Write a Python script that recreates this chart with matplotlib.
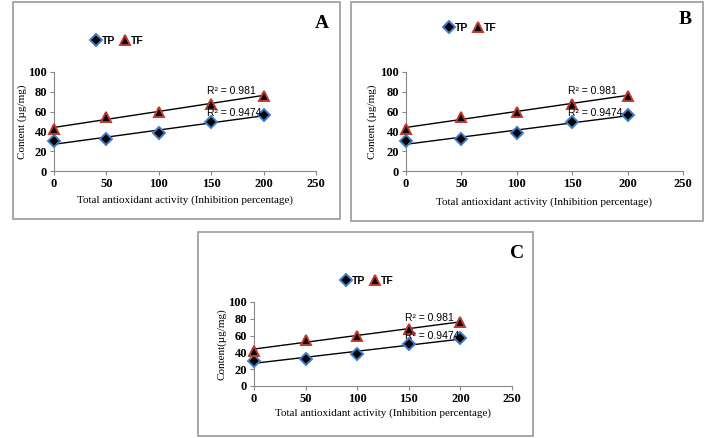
import numpy as np
import matplotlib.pyplot as plt
from matplotlib.patches import Rectangle

# datos (iguales en los tres paneles)
x = [0, 50, 100, 150, 200]
tp = [30, 32, 38, 50, 57]
tf = [42, 55, 60, 68, 76]
xticks = [0, 50, 100, 150, 200, 250]
yticks = [0, 20, 40, 60, 80, 100]
r2_tp = 'R² = 0.9474'
r2_tf = 'R² = 0.981'
letras = ['A', 'B', 'C']
ylabels = ['Content (µg/mg)', 'Content (µg/mg)', 'Content(µg/mg)']

W, H = 709, 438
fig = plt.figure(figsize=(W/100, H/100), dpi=100)

def px(l, t, r, b):
    return [l/W, 1 - b/H, (r-l)/W, (b-t)/H]

# cajas y ejes en pixeles (izq, arriba, der, abajo)
cajas = [(13, 2, 340, 219), (351, 2, 703, 221), (198, 232, 533, 436)]
ejes = [(54, 72, 316, 171), (406, 72, 683, 171), (254, 302, 512, 386)]
leyendas = [(118, 41), (471, 28), (368, 281)]
pos_letra = [(322, 23), (685, 20), (517, 254)]
ylab_x = [22, 372, 222]
xlab_y = [200, 202, 413]

for i in range(3):
    l, t, r, b = cajas[i]
    fig.patches.append(Rectangle((l/W, 1-b/H), (r-l)/W, (b-t)/H, transform=fig.transFigure,
                                 fill=False, edgecolor='#999999', lw=1.2))
    ax = fig.add_axes(px(*ejes[i]))
    ax.plot(x, tp, linestyle='none', marker='D', ms=6, mfc='black', mec='#3f7bc9', mew=1.4,
            label='TP', clip_on=False, zorder=3)
    ax.plot(x, tf, linestyle='none', marker='^', ms=7.5, mfc='black', mec='#c0392b', mew=1.4,
            label='TF', clip_on=False, zorder=3)
    # lineas de tendencia
    for ys in [tp, tf]:
        m, c = np.polyfit(x, ys, 1)
        ax.plot([x[0], x[-1]], [c, m*x[-1]+c], color='black', lw=1, zorder=2)
    ax.text(146, 81, r2_tf, fontsize=7.5, family='Liberation Sans', va='center', zorder=4)
    ax.text(146, 59, r2_tp, fontsize=7.5, family='Liberation Sans', va='center', zorder=4)
    ax.set_xlim(0, 250)
    ax.set_ylim(0, 100)
    ax.set_xticks(xticks)
    ax.set_yticks(yticks)
    ax.spines['top'].set_visible(False)
    ax.spines['right'].set_visible(False)
    ax.spines['left'].set_color('#888888')
    ax.spines['bottom'].set_color('#888888')
    ax.tick_params(length=3, width=0.8, color='#888888', pad=2)
    for lab in ax.get_xticklabels() + ax.get_yticklabels():
        lab.set_fontfamily('Liberation Serif')
        lab.set_fontweight('bold')
        lab.set_fontsize(9)
    ax.set_facecolor('none')
    lx, ly = leyendas[i]
    ax.legend(loc='center', bbox_to_anchor=(lx/W, 1-ly/H), bbox_transform=fig.transFigure,
              ncol=2, frameon=False, handlelength=0.7, handletextpad=0.2, columnspacing=0.6,
              prop={'family': 'Liberation Sans', 'weight': 'bold', 'size': 7.5})
    ex, ey = pos_letra[i]
    fig.text(ex/W, 1-ey/H, letras[i], fontsize=14, fontweight='bold', family='Liberation Serif',
             ha='center', va='center')
    l2, t2, r2, b2 = ejes[i]
    fig.text(ylab_x[i]/W, 1-(t2+b2)/2/H, ylabels[i], rotation=90, fontsize=8,
             family='Liberation Serif', ha='center', va='center')
    fig.text((l2+r2)/2/W, 1-xlab_y[i]/H, 'Total antioxidant activity (Inhibition percentage)',
             fontsize=8, family='Liberation Serif', ha='center', va='center')

plt.savefig('out.png', dpi=100)
